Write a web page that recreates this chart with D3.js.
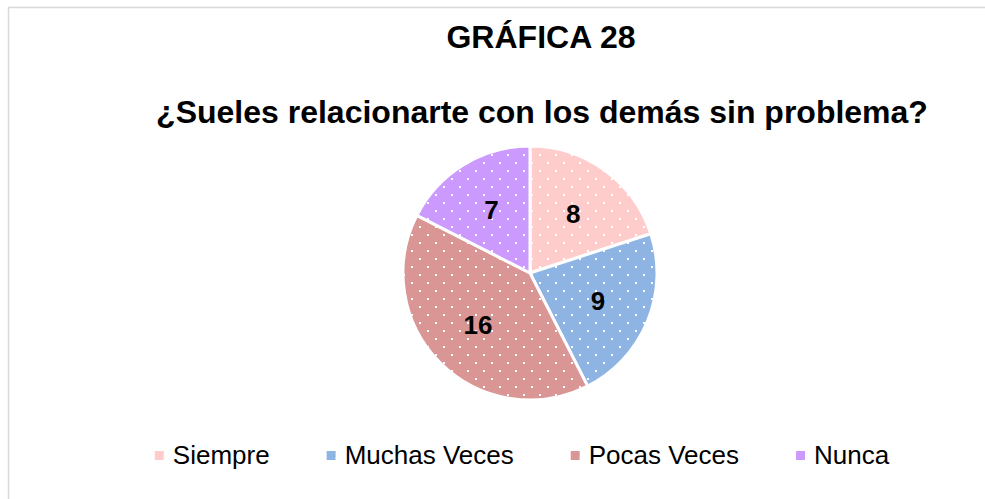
<!DOCTYPE html>
<html>
<head>
<meta charset="utf-8">
<script src="https://cdn.jsdelivr.net/npm/d3@7"></script>
<style>
  body { margin: 0; background: #fff; }
  svg text { font-family: "Liberation Sans", Arial, sans-serif; }
</style>
</head>
<body>
<svg id="canvas" width="985" height="499"></svg>
<script>
const categories = ["Siempre", "Muchas Veces", "Pocas Veces", "Nunca"];
const values = [8, 9, 16, 7];
const colors = ["#FFCCCC", "#8EB4E3", "#D99694", "#CC99FF"];
const title = "GRÁFICA 28";
const subtitle = "¿Sueles relacionarte con los demás sin problema?";

const data = categories.map((c, i) => ({ name: c, value: values[i], color: colors[i] }));

const svg = d3.select("#canvas");

// chart frame
svg.append("rect")
  .attr("x", 8.5).attr("y", 7.5)
  .attr("width", 1000).attr("height", 1000)
  .attr("fill", "none")
  .attr("stroke", "#d9d9d9")
  .attr("stroke-width", 1.5);

// dotted fill patterns
const defs = svg.append("defs");
data.forEach((d, i) => {
  const p = defs.append("pattern")
    .attr("id", "pat" + i)
    .attr("patternUnits", "userSpaceOnUse")
    .attr("width", 16).attr("height", 16);
  p.append("rect").attr("width", 16).attr("height", 16).attr("fill", d.color);
  p.append("rect").attr("x", 1).attr("y", 1).attr("width", 2).attr("height", 2).attr("fill", "#fff");
  p.append("rect").attr("x", 9).attr("y", 9).attr("width", 2).attr("height", 2).attr("fill", "#fff");
});

// titles
svg.append("text")
  .attr("x", 541).attr("y", 48)
  .attr("text-anchor", "middle")
  .attr("font-size", 32).attr("font-weight", "bold")
  .text(title);

svg.append("text")
  .attr("x", 542).attr("y", 123)
  .attr("text-anchor", "middle")
  .attr("font-size", 32).attr("font-weight", "bold")
  .text(subtitle);

// pie
const cx = 530, cy = 273, r = 127;
const pie = d3.pie().sort(null).value(d => d.value);
const arc = d3.arc().innerRadius(0).outerRadius(r);
const labelArc = d3.arc().innerRadius(r * 0.58).outerRadius(r * 0.58);

const g = svg.append("g").attr("transform", `translate(${cx},${cy})`);
const arcs = pie(data);

g.selectAll("path")
  .data(arcs)
  .enter()
  .append("path")
  .attr("d", arc)
  .attr("fill", (d, i) => `url(#pat${i})`)
  .attr("stroke", "#fff")
  .attr("stroke-width", 3)
  .attr("stroke-linejoin", "round");

g.selectAll("text.lbl")
  .data(arcs)
  .enter()
  .append("text")
  .attr("class", "lbl")
  .attr("transform", d => `translate(${labelArc.centroid(d)})`)
  .attr("text-anchor", "middle")
  .attr("dy", "0.35em")
  .attr("font-size", 26).attr("font-weight", "bold")
  .text(d => d.data.value);

// legend
const legend = svg.append("g");
const items = legend.selectAll("g")
  .data(data)
  .enter()
  .append("g");

items.append("rect")
  .attr("y", 451)
  .attr("width", 9).attr("height", 9)
  .attr("fill", (d, i) => `url(#pat${i})`);

items.append("text")
  .attr("x", 18).attr("y", 464)
  .attr("font-size", 26)
  .text(d => d.name);

const gap = 57;
const widths = items.nodes().map(n => d3.select(n).select("text").node().getComputedTextLength() + 18);
const total = d3.sum(widths) + gap * (widths.length - 1);
let xPos = 522 - total / 2;
items.attr("transform", (d, i) => {
  const x = xPos;
  xPos += widths[i] + gap;
  return `translate(${x},0)`;
});
</script>
</body>
</html>
